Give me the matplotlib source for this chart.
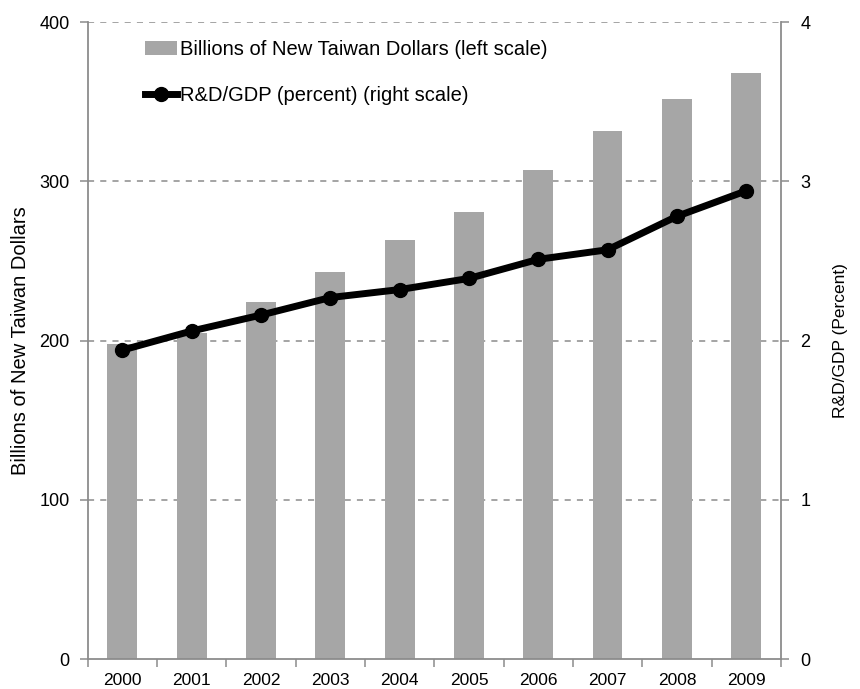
import numpy as np
import matplotlib.pyplot as plt
from matplotlib.lines import Line2D
from matplotlib.patches import Patch

plt.rcParams['font.family'] = ['Liberation Sans', 'DejaVu Sans']

years = ["2000", "2001", "2002", "2003", "2004", "2005", "2006", "2007", "2008", "2009"]
rd_spending = [197.6, 205.0, 224.4, 242.9, 263.3, 280.9, 307.0, 331.4, 351.4, 367.7]
rd_gdp = [1.94, 2.06, 2.16, 2.27, 2.32, 2.39, 2.51, 2.57, 2.78, 2.94]

bar_color = "#a6a6a6"
axis_color = "#8c8c8c"

fig = plt.figure(figsize=(8.6, 6.89), dpi=100)
ax = fig.add_axes([0.102, 0.0435, 0.806, 0.9245])
x = np.arange(len(years))

ax.bar(x, rd_spending, width=0.43, color=bar_color, zorder=2)
ax.set_xlim(-0.5, len(years) - 0.5)
ax.set_ylim(0, 400)
ax.set_yticks([0, 100, 200, 300, 400])
ax.set_ylabel("Billions of New Taiwan Dollars", fontsize=14.5, labelpad=7)

# dashed gridlines (none at zero)
for y in [100, 200, 300, 400]:
    ax.axhline(y, color=axis_color, linestyle=(0, (4, 4)), linewidth=1.1, zorder=1)

# category ticks between bars, labels centered on bars
ax.set_xticks(x)
ax.set_xticklabels(years, fontsize=12.5)
ax.set_xticks(np.arange(-0.5, len(years)), minor=True)
ax.tick_params(axis="x", which="major", length=0, pad=10)
ax.tick_params(axis="x", which="minor", length=6, color=axis_color, width=1.1)
ax.tick_params(axis="y", length=6, color=axis_color, width=1.1, labelsize=13, pad=7)

for side in ["left", "bottom"]:
    ax.spines[side].set_color(axis_color)
    ax.spines[side].set_linewidth(1.3)
ax.spines["top"].set_visible(False)
ax.spines["right"].set_visible(False)

ax2 = ax.twinx()
ax2.plot(x, rd_gdp, color="black", linewidth=5, marker="o", markersize=10, zorder=3)
ax2.set_ylim(0, 4)
ax2.set_yticks([0, 1, 2, 3, 4])
ax2.set_ylabel("R&D/GDP (Percent)", fontsize=12.5, labelpad=16)
ax2.tick_params(axis="y", length=6, color=axis_color, width=1.1, labelsize=13, pad=8)
ax2.spines["right"].set_color(axis_color)
ax2.spines["right"].set_linewidth(1.3)
for side in ["top", "left", "bottom"]:
    ax2.spines[side].set_visible(False)

handles = [
    Patch(facecolor=bar_color, edgecolor="none"),
    Line2D([0], [0], color="black", linewidth=5, marker="o", markersize=10),
]
labels = ["Billions of New Taiwan Dollars (left scale)", "R&D/GDP (percent) (right scale)"]
ax2.legend(handles, labels, loc="upper left", bbox_to_anchor=(0.056, 1.0), frameon=False,
           fontsize=14.5, handlelength=1.6, handletextpad=0.15, labelspacing=1.35)

fig.savefig("out.png", dpi=100)
